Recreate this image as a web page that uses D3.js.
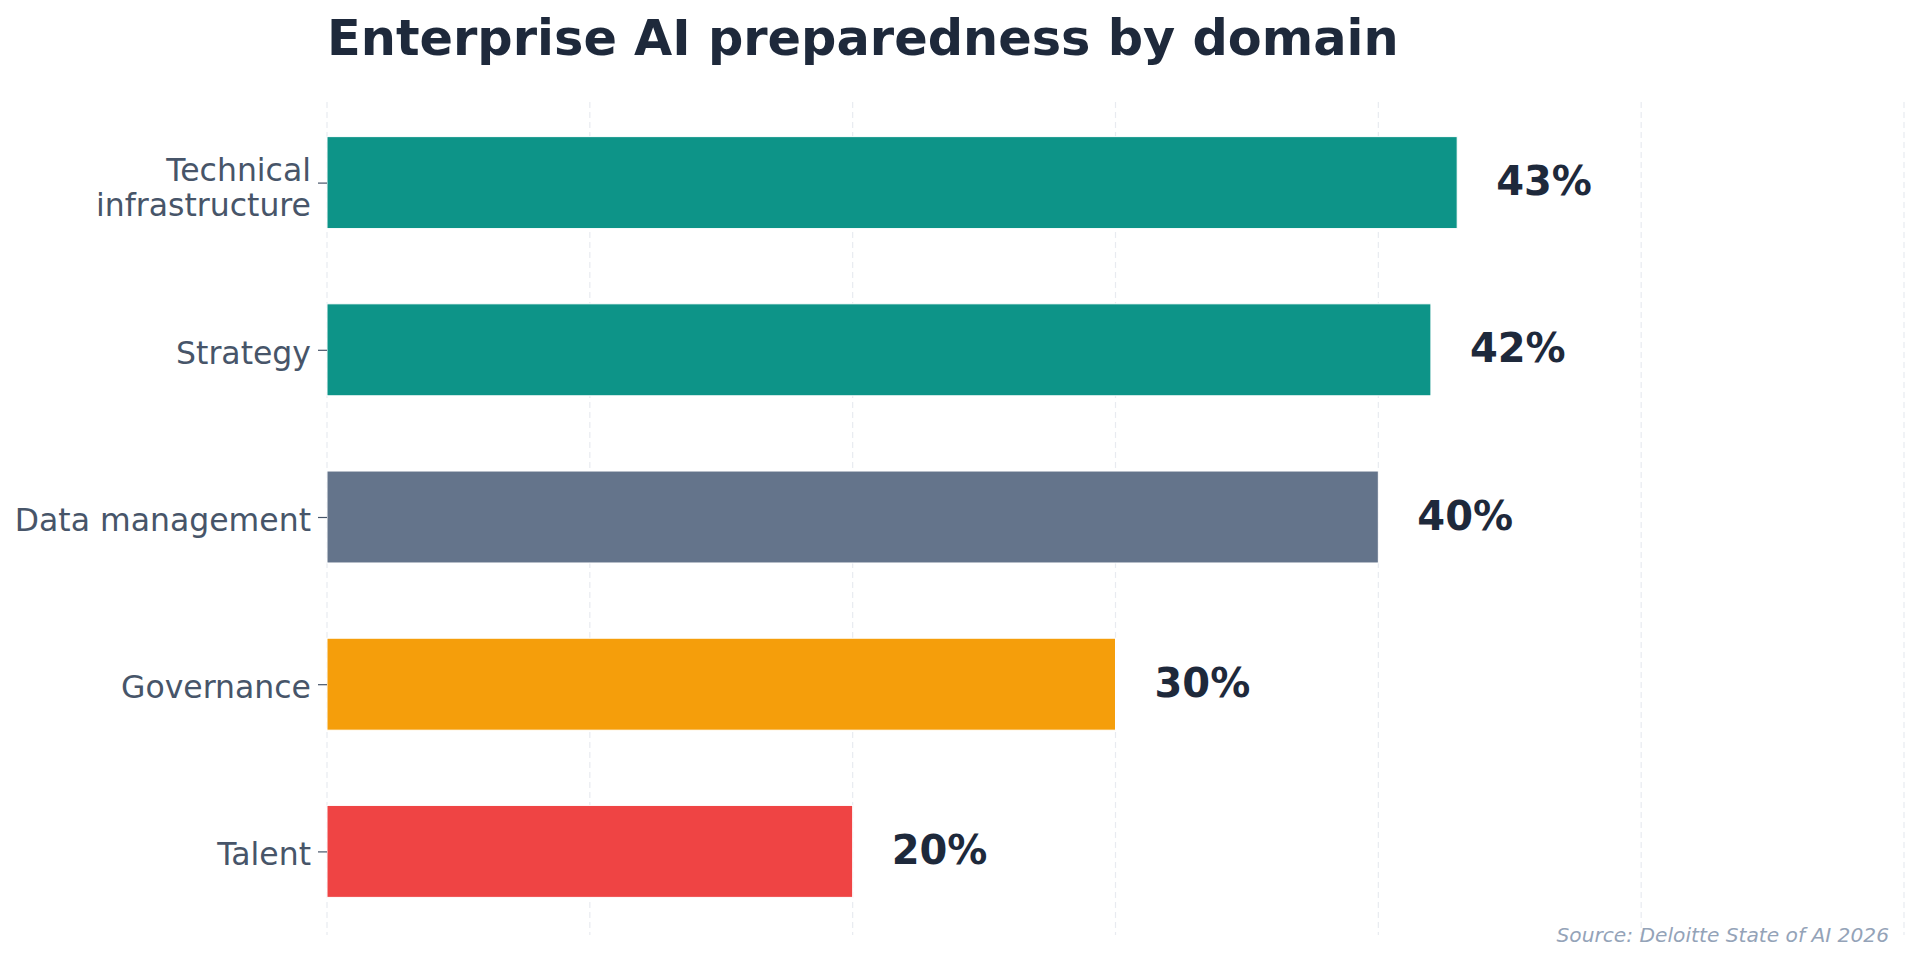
<!DOCTYPE html>
<html>
<head>
<meta charset="utf-8">
<script src="https://cdn.jsdelivr.net/npm/d3@7"></script>
<style>
  body { margin: 0; background: #ffffff; }
  text { font-family: "DejaVu Sans", sans-serif; }
</style>
</head>
<body>
<svg id="chart" width="1920" height="961"></svg>
<script>
// ------------------ DATA ------------------
let domains = [["Technical", "infrastructure"], ["Strategy"], ["Data management"], ["Governance"], ["Talent"]];
let scores = [43, 42, 40, 30, 20];
let barColors = ["#0d9488", "#0d9488", "#64748b", "#f59e0b", "#ef4444"];
let gridTicks = [0, 10, 20, 30, 40, 50, 60];

// ------------------ LAYOUT ------------------
let svg = d3.select("#chart");
let margin = { left: 327, right: 16, top: 99, bottom: 26 };
let width = 1920;
let height = 961;

let x = d3.scaleLinear()
    .domain([0, 60])
    .range([margin.left, width - margin.right]);

let y = d3.scaleBand()
    .domain(d3.range(domains.length))
    .range([margin.top, height - margin.bottom])
    .paddingInner(0.45)
    .paddingOuter(0.225);

// grid
svg.append("g")
    .selectAll("line")
    .data(gridTicks)
    .enter().append("line")
    .attr("x1", (d) => x(d))
    .attr("x2", (d) => x(d))
    .attr("y1", margin.top + 3)
    .attr("y2", height - margin.bottom)
    .attr("stroke", "#e8ebf0")
    .attr("stroke-width", 1.2)
    .attr("stroke-dasharray", "6,4");

// bars
svg.append("g")
    .selectAll("rect")
    .data(scores)
    .enter().append("rect")
    .attr("x", x(0))
    .attr("y", (d, i) => y(i))
    .attr("width", (d) => x(d) - x(0))
    .attr("height", y.bandwidth())
    .attr("fill", (d, i) => barColors[i])
    .attr("stroke", "#ffffff")
    .attr("stroke-width", 1);

// y axis (ticks only, labels drawn by hand for wrapping)
let yAxis = svg.append("g")
    .attr("transform", "translate(" + x(0) + ",0)")
    .call(d3.axisLeft(d3.scalePoint()
            .domain(d3.range(domains.length))
            .range([y(0) + y.bandwidth() / 2, y(domains.length - 1) + y.bandwidth() / 2]))
        .tickSize(9)
        .tickPadding(7)
        .tickFormat(""));

yAxis.select(".domain").remove();
yAxis.selectAll(".tick line").attr("stroke", "#475569").attr("stroke-width", 1.2);

let lineHeight = 35;
yAxis.selectAll(".tick").each(function (d) {
    let lines = domains[d];
    let shift = lines.length > 1 ? 2 : 0;
    let t = d3.select(this).select("text")
        .attr("fill", "#475569")
        .attr("font-size", 31.5)
        .attr("text-anchor", "end")
        .attr("dy", null)
        .attr("x", -16);
    lines.forEach((ln, i) => {
        t.append("tspan")
            .attr("x", -16)
            .attr("y", 13.5 + shift + (i - (lines.length - 1) / 2) * lineHeight)
            .text(ln);
    });
});

// value labels
svg.append("g")
    .selectAll("text")
    .data(scores)
    .enter().append("text")
    .attr("x", (d) => x(d) + 39)
    .attr("y", (d, i) => y(i) + y.bandwidth() / 2 + 12.5)
    .attr("font-size", 40)
    .attr("font-weight", "bold")
    .attr("fill", "#1e293b")
    .text((d) => d + "%");

// title
svg.append("text")
    .attr("x", margin.left)
    .attr("y", 55)
    .attr("font-size", 49.4)
    .attr("font-weight", "bold")
    .attr("fill", "#1e293b")
    .text("Enterprise AI preparedness by domain");

// source note
svg.append("text")
    .attr("x", 1889)
    .attr("y", 942)
    .attr("text-anchor", "end")
    .attr("font-size", 20.2)
    .attr("font-style", "italic")
    .attr("fill", "#94a3b8")
    .text("Source: Deloitte State of AI 2026");
</script>
</body>
</html>
